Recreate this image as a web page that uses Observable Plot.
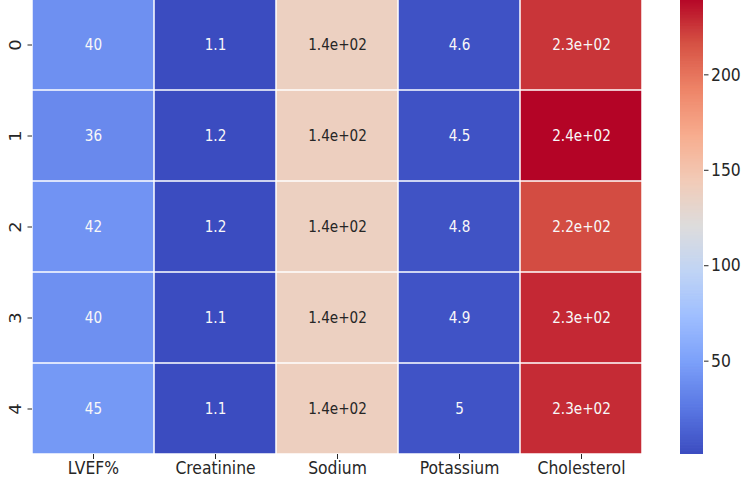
<!DOCTYPE html>
<html>
<head>
<meta charset="utf-8">
<script src="https://cdn.jsdelivr.net/npm/d3@7"></script>
<script src="https://cdn.jsdelivr.net/npm/@observablehq/plot@0.6"></script>
<style>
  html, body { margin: 0; padding: 0; background: white; }
  #wrap { position: relative; width: 750px; height: 481px; overflow: hidden; font-family: "DejaVu Sans", sans-serif; }
  #main, #bar { position: absolute; top: 0; }
  #main { left: 0; }
  #bar { left: 660px; }
</style>
</head>
<body>
<div id="wrap"><div id="main"></div><div id="bar"></div></div>
<script>
// ---- data ----
const rows = ["0", "1", "2", "3", "4"];
const columns = ["LVEF%", "Creatinine", "Sodium", "Potassium", "Cholesterol"];
const lvef = [40, 36, 42, 40, 45];
const creatinine = [1.1, 1.2, 1.2, 1.1, 1.1];
const sodium = [138, 139, 138, 138, 139];
const potassium = [4.6, 4.5, 4.8, 4.9, 5.0];
const cholesterol = [225, 240, 218, 229, 228];
const colorTicks = [50, 100, 150, 200];
// matplotlib "coolwarm" sampled at 11 even stops
const coolwarm = ["#3b4cc0", "#5977e3", "#7b9ff9", "#9ebeff", "#c0d4f5", "#dddcdc",
                  "#f2cbb7", "#f7ac8e", "#ee8468", "#d65244", "#b40426"];

const series = [lvef, creatinine, sodium, potassium, cholesterol];
const table = [];
rows.forEach((r, i) => columns.forEach((c, j) => table.push({row: r, col: c, value: series[j][i]})));
const all = table.map(d => d.value);
const vmin = d3.min(all), vmax = d3.max(all);
const stops = coolwarm.map((_, i) => vmin + i * (vmax - vmin) / (coolwarm.length - 1));
const colorScale = {type: "linear", domain: stops, range: coolwarm, interpolate: "rgb"};
const colorFn = d3.scaleLinear().domain(stops).range(coolwarm).interpolate(d3.interpolateRgb).clamp(true);

function lum(c) {
  const rgb = d3.rgb(c);
  const f = v => { v /= 255; return v <= 0.03928 ? v / 12.92 : Math.pow((v + 0.055) / 1.055, 2.4); };
  return 0.2126 * f(rgb.r) + 0.7152 * f(rgb.g) + 0.0722 * f(rgb.b);
}
function fmt2g(v) {
  if (v === 0) return "0";
  const e = Math.floor(Math.log10(Math.abs(Number(v.toPrecision(2)))));
  if (e >= 2 || e < -4) {
    let m = (v / Math.pow(10, e)).toPrecision(2);
    if (m.includes(".")) m = m.replace(/0+$/, "").replace(/\.$/, "");
    const es = (e < 0 ? "-" : "+") + String(Math.abs(e)).padStart(2, "0");
    return m + "e" + es;
  }
  let s = v.toPrecision(2);
  if (s.includes(".")) s = s.replace(/0+$/, "").replace(/\.$/, "");
  return s;
}

const ink = "#262626";
const main = Plot.plot({
  width: 660,
  height: 481,
  marginLeft: 32,
  marginRight: 18,
  marginTop: 0,
  marginBottom: 27,
  style: {fontFamily: "DejaVu Sans, sans-serif", color: ink, background: "white"},
  x: {domain: columns, padding: 0},
  y: {domain: rows, padding: 0, range: [-2, 454]},
  color: colorScale,
  marks: [
    Plot.cell(table, {x: "col", y: "row", fill: "value", inset: 0.75}),
    Plot.text(table, {x: "col", y: "row", text: d => fmt2g(d.value), fontSize: 13.6,
      fill: d => lum(colorFn(d.value)) > 0.408 ? ink : "#f8f8f8"}),
    Plot.axisX({tickSize: 5, tickPadding: 3, fontSize: 15.6, label: null}),
    Plot.axisY({tickSize: 4.5, tickFormat: () => "", label: null}),
    Plot.text(rows, {y: d => d, text: d => d, frameAnchor: "left", dx: -17, rotate: -90,
      textAnchor: "middle", lineAnchor: "middle", fontSize: 15.6, fill: ink})
  ]
});
document.getElementById("main").appendChild(main);

const steps = d3.range(0, 300).map(i => ({
  a: vmin + i * (vmax - vmin) / 300,
  b: vmin + (i + 1) * (vmax - vmin) / 300
}));
const bar = Plot.plot({
  width: 90,
  height: 481,
  marginLeft: 20,
  marginRight: 47,
  marginTop: 0,
  marginBottom: 27,
  style: {fontFamily: "DejaVu Sans, sans-serif", color: ink, background: "white"},
  x: {domain: [0, 1], axis: null},
  y: {domain: [vmin, vmax], range: [454, -2]},
  color: colorScale,
  marks: [
    Plot.rect(steps, {x1: 0, x2: 1, y1: "a", y2: d => d.b + (vmax - vmin) / 600, fill: d => (d.a + d.b) / 2}),
    Plot.axisY({anchor: "right", ticks: colorTicks, tickSize: 4.5, tickPadding: 3, fontSize: 15.6, label: null})
  ]
});
document.getElementById("bar").appendChild(bar);

// the reference's glyphs are taller than they are wide: stretch text vertically on screen
const stretch = 1.15;
document.querySelectorAll("#wrap svg text").forEach(t => {
  const b = t.getBBox();
  const cx = b.x + b.width / 2, cy = b.y + b.height / 2;
  const ctm = t.getAttribute("transform") || "";
  const rotated = /rotate\(/.test(ctm);
  const s = rotated ? `scale(${stretch},1)` : `scale(1,${stretch})`;
  t.setAttribute("transform", `${ctm} translate(${cx},${cy}) ${s} translate(${-cx},${-cy})`.trim());
});
</script>
</body>
</html>
